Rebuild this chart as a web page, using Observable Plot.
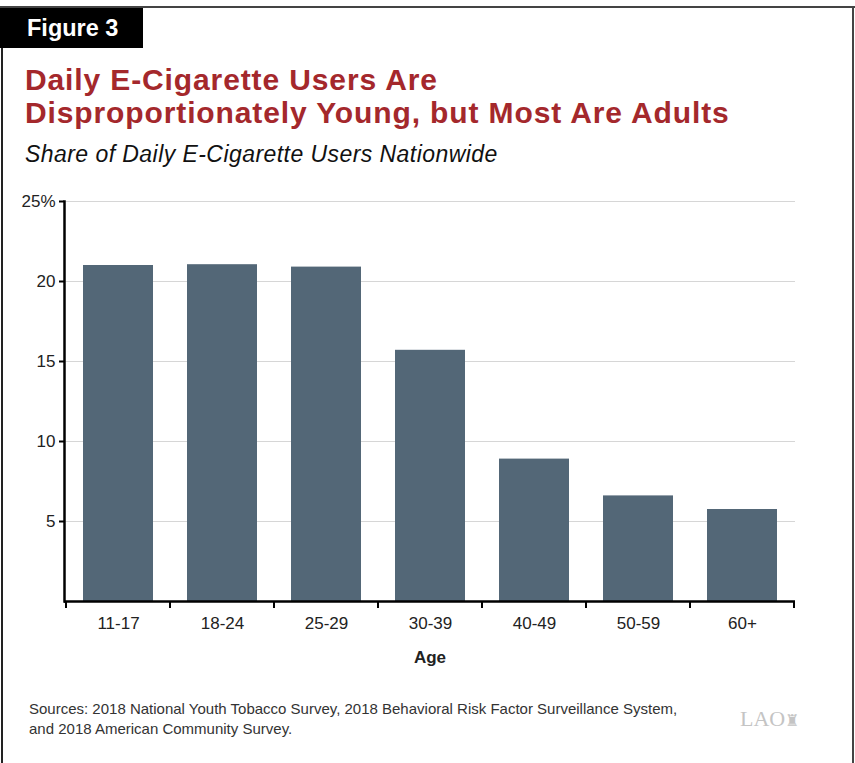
<!DOCTYPE html>
<html><head><meta charset="utf-8">
<script src="https://cdn.jsdelivr.net/npm/d3@7"></script>
<script src="https://cdn.jsdelivr.net/npm/@observablehq/plot@0.6"></script>
<style>
body{margin:0;background:#fff;font-family:"Liberation Sans",Arial,Helvetica,sans-serif;}
#page{position:relative;width:855px;height:763px;overflow:hidden;background:#fff;}
.topline{position:absolute;left:0;top:6px;width:855px;height:2px;background:#444;}
.lborder{position:absolute;left:1px;top:8px;width:2px;height:760px;background:#222;}
.rborder{position:absolute;left:852px;top:8px;width:2px;height:760px;background:#444;}
.figbox{position:absolute;left:0;top:8px;width:143px;height:40px;background:#000;color:#fff;font-weight:bold;font-size:23.5px;line-height:40px;padding-left:27px;box-sizing:border-box;white-space:nowrap;}
.title{position:absolute;left:25px;top:63px;color:#a4282c;font-weight:bold;font-size:30px;letter-spacing:0.88px;line-height:33.4px;white-space:nowrap;}
.subtitle{position:absolute;left:25px;top:141px;font-style:italic;font-size:23px;letter-spacing:0.44px;line-height:26px;color:#111;white-space:nowrap;}
#chart{position:absolute;left:0;top:180px;}
.caption{position:absolute;left:29px;top:699px;font-size:15px;line-height:20px;color:#333;white-space:nowrap;}
.logo{position:absolute;left:740px;top:706px;font-family:"Liberation Serif","DejaVu Serif",serif;font-size:22px;color:#c4c4c4;}
</style></head><body>
<div id="page">
 <div class="topline"></div>
 <div class="lborder"></div><div class="rborder"></div>
 <div class="figbox">Figure 3</div>
 <div class="title">Daily E-Cigarette Users Are<br>Disproportionately Young, but Most Are Adults</div>
 <div class="subtitle">Share of Daily E-Cigarette Users Nationwide</div>
 <div id="chart"></div>
 <div class="caption">Sources: 2018 National Youth Tobacco Survey, 2018 Behavioral Risk Factor Surveillance System,<br>and 2018 American Community Survey.</div>
 <div class="logo">LAO<span style="font-size:16px">&#9820;</span></div>
</div>
<script>
const ageGroups = ["11-17", "18-24", "25-29", "30-39", "40-49", "50-59", "60+"];
const shares = [21.0, 21.05, 20.9, 15.7, 8.9, 6.6, 5.75];
const yTicks = [5, 10, 15, 20, 25];
const xLabel = "Age";

const data = ageGroups.map((a, i) => ({age: a, share: shares[i]}));

const chart = Plot.plot({
  width: 855,
  height: 500,
  marginLeft: 64,
  marginRight: 60,
  marginTop: 21,
  marginBottom: 79,
  style: {fontFamily: '"Liberation Sans", Arial, sans-serif', fontSize: "17px", color: "#222", background: "transparent"},
  x: {domain: ageGroups, paddingInner: 0.33, paddingOuter: 0.165},
  y: {domain: [0, 25]},
  marks: [
    Plot.gridY(yTicks, {stroke: "#d6d6d6", strokeOpacity: 1, strokeWidth: 1.2}),
    Plot.barY(data, {x: "age", y: "share", fill: "#536777"}),
    Plot.axisY(yTicks, {tickSize: 5, tickPadding: 4, strokeWidth: 2, stroke: "#000", tickFormat: d => d === 25 ? "25%" : String(d), label: null, fontSize: 17}),
    Plot.axisX({tickSize: 0, tickPadding: 15, fontSize: 17, label: xLabel, labelAnchor: "center", labelOffset: 61}),
    Plot.ruleY([0], {stroke: "#000", strokeWidth: 2.5}),
    Plot.frame({anchor: "left", stroke: "#000", strokeWidth: 2.5})
  ]
});

// x-axis ticks at band boundaries, derived from the band scale
const xs = chart.scale("x");
const ys = chart.scale("y");
const gap = xs.step - xs.bandwidth;
const bounds = ageGroups.map(a => xs.apply(a) - gap / 2);
bounds.push(xs.apply(ageGroups[ageGroups.length - 1]) + xs.bandwidth + gap / 2);
const y0 = ys.apply(0);
const svg = d3.select(chart);
svg.append("g").selectAll("line").data(bounds).join("line")
  .attr("x1", d => d).attr("x2", d => d)
  .attr("y1", y0).attr("y2", y0 + 7)
  .attr("stroke", "#000").attr("stroke-width", 2);
svg.selectAll("[aria-label='x-axis label'] text, [aria-label='x-axis label']").attr("font-weight", "bold");

document.getElementById("chart").appendChild(chart);
</script>
</body></html>
